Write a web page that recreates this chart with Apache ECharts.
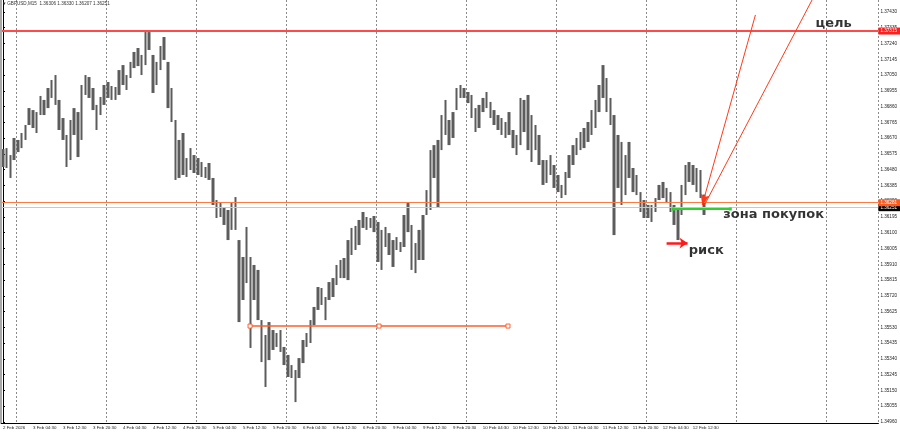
<!DOCTYPE html>
<html><head><meta charset="utf-8">
<script src="https://cdn.jsdelivr.net/npm/echarts@6/dist/echarts.min.js"></script>
<style>html,body{margin:0;padding:0;background:#fff}#c{width:900px;height:434px}</style>
</head><body><div id="c"></div>
<script>
// ---- data ----
const header = 'GBPUSD,M15  1.36306 1.36330 1.36207 1.36251';
const tickLabels = ['2 Feb 2026','3 Feb 04:30','3 Feb 12:30','3 Feb 20:30','4 Feb 04:30','4 Feb 12:30','4 Feb 20:30',
  '5 Feb 04:30','5 Feb 12:30','5 Feb 20:30','6 Feb 04:30','6 Feb 12:30','6 Feb 20:30','9 Feb 04:30','9 Feb 12:30',
  '9 Feb 20:30','10 Feb 04:30','10 Feb 12:30','10 Feb 20:30','11 Feb 04:30','11 Feb 12:30','11 Feb 20:30',
  '12 Feb 04:30','12 Feb 12:30'];
const yTicks = [1.34960,1.35055,1.35150,1.35245,1.35340,1.35435,1.35530,1.35625,1.35720,1.35815,1.35910,1.36005,
  1.36100,1.36195,1.36290,1.36385,1.36480,1.36575,1.36670,1.36765,1.36860,1.36955,1.37050,1.37145,1.37240,1.37335,1.37430];
const highs = [
 1.36604,1.36610,1.36568,1.36671,1.36659,1.36701,1.36749,1.36851,1.36839,1.36827,
 1.36924,1.36900,1.36972,1.37020,1.37050,1.36900,1.36791,1.36689,1.36779,1.36851,
 1.36827,1.36990,1.37050,1.37038,1.36972,1.36870,1.36918,1.36990,1.37008,1.36984,
 1.36978,1.37080,1.37110,1.37050,1.37129,1.37189,1.37213,1.37171,1.37315,1.37309,
 1.37171,1.37129,1.37225,1.37279,1.37129,1.36972,1.36779,1.36659,1.36701,1.36550,
 1.36610,1.36568,1.36550,1.36526,1.36496,1.36520,1.36430,1.36297,1.36279,1.36249,
 1.36237,1.36279,1.36315,1.36056,1.35954,1.36135,1.35954,1.35906,1.35876,1.35574,
 1.35484,1.35562,1.35514,1.35496,1.35514,1.35412,1.35364,1.35303,1.35273,1.35345,
 1.35454,1.35496,1.35574,1.35653,1.35773,1.35767,1.35713,1.35803,1.35827,1.35906,
 1.35936,1.35948,1.36056,1.36129,1.36141,1.36177,1.36225,1.36195,1.36189,1.36201,
 1.36165,1.36117,1.36135,1.36098,1.36056,1.36074,1.36044,1.36207,1.36279,1.36147,
 1.36038,1.36117,1.36207,1.36357,1.36598,1.36628,1.36659,1.36809,1.36900,1.36779,
 1.36827,1.36972,1.36990,1.36972,1.36948,1.36930,1.36851,1.36870,1.36912,1.36948,
 1.36888,1.36839,1.36809,1.36791,1.36767,1.36827,1.36719,1.36689,1.36912,1.36900,
 1.36930,1.36809,1.36749,1.36689,1.36538,1.36538,1.36568,1.36508,1.36448,1.36388,
 1.36466,1.36568,1.36628,1.36671,1.36707,1.36731,1.36767,1.36839,1.36900,1.36990,
 1.37110,1.37032,1.36912,1.36809,1.36689,1.36647,1.36568,1.36647,1.36490,1.36448,
 1.36345,1.36297,1.36267,1.36267,1.36309,1.36388,1.36406,1.36370,1.36345,1.36267,
 1.36237,1.36388,1.36508,1.36526,1.36508,1.36490,1.36478,1.36330];
const lows = [
 1.36496,1.36490,1.36430,1.36538,1.36586,1.36610,1.36659,1.36749,1.36731,1.36701,
 1.36809,1.36809,1.36851,1.36912,1.36870,1.36719,1.36659,1.36496,1.36538,1.36689,
 1.36556,1.36659,1.36930,1.36912,1.36839,1.36719,1.36809,1.36870,1.36912,1.36900,
 1.36900,1.36930,1.36990,1.36960,1.37032,1.37092,1.37104,1.37050,1.37110,1.37201,
 1.36942,1.36990,1.37080,1.37141,1.36851,1.36767,1.36418,1.36430,1.36448,1.36436,
 1.36478,1.36460,1.36448,1.36436,1.36430,1.36418,1.36267,1.36189,1.36195,1.36147,
 1.36056,1.36117,1.36117,1.35562,1.35695,1.35797,1.35406,1.35695,1.35574,1.35321,
 1.35171,1.35333,1.35394,1.35412,1.35382,1.35303,1.35231,1.35225,1.35080,1.35225,
 1.35315,1.35412,1.35436,1.35544,1.35635,1.35665,1.35574,1.35695,1.35713,1.35785,
 1.35827,1.35827,1.35815,1.35966,1.35996,1.36026,1.36129,1.36117,1.36129,1.36104,
 1.35924,1.35876,1.36014,1.35966,1.35894,1.35996,1.35984,1.36014,1.36104,1.35876,
 1.35857,1.35936,1.35936,1.36207,1.36237,1.36430,1.36249,1.36598,1.36689,1.36628,
 1.36671,1.36839,1.36912,1.36912,1.36881,1.36791,1.36707,1.36731,1.36827,1.36851,
 1.36791,1.36749,1.36719,1.36689,1.36671,1.36689,1.36610,1.36568,1.36628,1.36707,
 1.36598,1.36526,1.36598,1.36508,1.36388,1.36400,1.36448,1.36370,1.36345,1.36309,
 1.36327,1.36430,1.36508,1.36568,1.36598,1.36610,1.36647,1.36689,1.36731,1.36827,
 1.36912,1.36827,1.36749,1.36086,1.36370,1.36267,1.36327,1.36430,1.36345,1.36327,
 1.36225,1.36189,1.36189,1.36165,1.36225,1.36297,1.36309,1.36285,1.36225,1.36147,
 1.36056,1.36207,1.36327,1.36406,1.36388,1.36345,1.36309,1.36207];
// levels drawn on the chart
const levelTarget = 1.37315, levelOrange = 1.36281, levelBid = 1.36251;
const levelSupport = 1.35538, levelZone = 1.36243, levelRisk = 1.36038;
// annotation anchors in bar-index units
const supportBars = [65.9, 100.3, 134.7];
const zoneBars = [178.8, 194.0];
const target1 = [[186.5, 1.36267], [200.7, 1.37412]];
const target2 = [[187.1, 1.36267], [215.8, 1.37502]];
const riskBars = [177.0, 182.6];
const notes = [
  {name: 'цель', value: [216.6, 1.37357]},
  {name: 'зона покупок', value: [192.0, 1.36207]},
  {name: 'риск', value: [182.8, 1.35990]}
];

// ---- chart ----
const N = 234;
const categories = Array.from({length: N}, (_, i) => String(i));
const candles = highs.map((h, i) => [lows[i], h, lows[i], h]);
const tiny = 'Liberation Sans';
const isLab = i => i % 8 === 0 && i / 8 < tickLabels.length;

const chart = echarts.init(document.getElementById('c'));
const priceBox = (txt, bg, fg) => ({show: true, position: 'end', distance: 0, formatter: txt,
  backgroundColor: bg, color: fg, fontSize: 4.6, fontFamily: tiny, padding: [1, 3, 1, 2]});
const solid = (color, width) => ({color: color, width: width, type: 'solid'});
chart.setOption({
  animation: false,
  backgroundColor: '#fff',
  title: {text: '\u25BE ' + header, left: 3, top: 1, padding: 0,
    textStyle: {fontSize: 4.6, fontWeight: 'normal', color: '#333', fontFamily: tiny}},
  graphic: [{type: 'rect', left: 0, top: 0, shape: {width: 2, height: 423}, style: {fill: '#a8a8a8'}, z: 100}],
  grid: {left: 0, right: 19, top: 0, bottom: 11},
  xAxis: [{
    type: 'category', data: categories, boundaryGap: true,
    axisLine: {lineStyle: {color: '#000', width: 1}},
    axisTick: {interval: isLab, length: 2, lineStyle: {color: '#000'}},
    axisLabel: {interval: isLab, formatter: (v, i) => tickLabels[i / 8] || '', fontSize: 4.4,
      fontFamily: tiny, color: '#222', align: 'left', margin: 3},
    splitLine: {show: true, interval: i => i % 24 === 4, lineStyle: {color: '#8a8a8a', type: [2, 2], width: 1}}
  }, {type: 'value', min: -0.5, max: N - 0.5, show: false}],
  yAxis: {
    type: 'value', position: 'right', min: 1.34954, max: 1.37502,
    axisLine: {show: true, lineStyle: {color: '#000'}},
    axisTick: {show: true, customValues: yTicks, length: 2, lineStyle: {color: '#000'}},
    axisLabel: {customValues: yTicks, formatter: v => v.toFixed(5), fontSize: 4.6, fontFamily: tiny, color: '#222', margin: 2},
    splitLine: {show: false}
  },
  series: [
    {
      type: 'candlestick', data: candles, barWidth: 3, z: 3,
      itemStyle: {color: '#5c5c5c', color0: '#5c5c5c', borderColor: '#5c5c5c', borderColor0: '#5c5c5c', borderWidth: 0}
    },
    {
      type: 'line', xAxisIndex: 1, data: supportBars.map(b => [b, levelSupport]), z: 4,
      lineStyle: {color: '#ff5f2e', width: 1.5}, symbol: 'rect', symbolSize: 4, showSymbol: true,
      itemStyle: {color: '#fff', borderColor: '#ff5f2e', borderWidth: 1}, silent: true,
      markLine: {silent: true, symbol: ['none', 'none'], animation: false, precision: 5, data: [
        {yAxis: levelBid, lineStyle: solid('#c8c8c8', 1), label: priceBox(levelBid.toFixed(5), '#000', '#fff')},
        {yAxis: levelOrange, lineStyle: solid('#ff7a40', 1), label: priceBox(levelOrange.toFixed(5), '#ff5a1e', '#fff')},
        {yAxis: levelTarget, lineStyle: solid('#ff4a4a', 2), label: priceBox(levelTarget.toFixed(5), '#ff1e1e', '#fff')}
      ]}
    },
    {
      type: 'line', xAxisIndex: 1, data: zoneBars.map(b => [b, levelZone]),
      lineStyle: {color: '#2fcf2f', width: 2}, symbol: 'rect', symbolSize: 3, showSymbol: true,
      itemStyle: {color: '#2fcf2f'}, silent: true, z: 5,
      markLine: {silent: true, animation: false, precision: 5, label: {show: false}, data: [
        [{coord: target2[0], symbol: 'none', lineStyle: solid('#ff3a1a', 1)}, {coord: target2[1], symbol: 'none'}],
        [{coord: target1[0], symbol: 'arrow', symbolSize: [7, 11], lineStyle: solid('#ff3a1a', 1)}, {coord: target1[1], symbol: 'none'}],
        [{coord: [riskBars[0], levelRisk], symbol: 'none', lineStyle: solid('#ff1a1a', 2.5)}, {coord: [riskBars[1], levelRisk], symbol: 'arrow', symbolSize: [8, 8]}]
      ]}
    },
    {
      type: 'scatter', xAxisIndex: 1, data: notes, symbolSize: 1, itemStyle: {color: 'rgba(0,0,0,0)'}, silent: true, z: 6,
      label: {show: true, position: 'right', distance: 0, formatter: '{b}', fontSize: 13, fontWeight: 'bold',
        fontFamily: 'DejaVu Sans', color: '#000'},
      labelLayout: {hideOverlap: false}
    }
  ]
});
</script></body></html>
